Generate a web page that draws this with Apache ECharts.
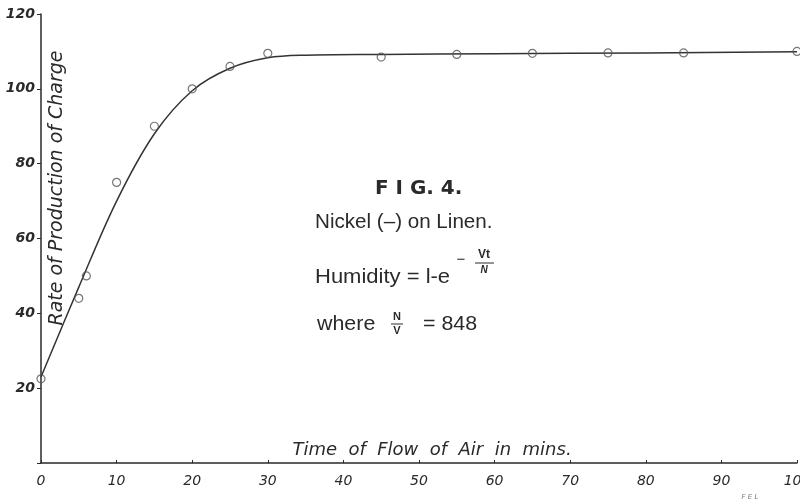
<!DOCTYPE html>
<html>
<head>
<meta charset="utf-8">
<script src="https://cdn.jsdelivr.net/npm/echarts@6/dist/echarts.min.js"></script>
<style>html,body{margin:0;padding:0;background:#fff}#c{width:800px;height:502px}</style>
</head>
<body>
<div id="c"></div>
<script>
// Observed points (time in mins, rate of production of charge)
var obsX = [0, 5, 6, 10, 15, 20, 25, 30, 45, 55, 65, 75, 85, 100];
var obsY = [22.5, 44, 50, 75, 90, 100, 106, 109.5, 108.5, 109.2, 109.5, 109.6, 109.6, 110];
// Fitted curve
var curveX = [0, 5, 10, 15, 20, 25, 30, 35, 45, 60, 80, 100];
var curveY = [23, 47, 70, 88, 99.5, 105.5, 108.3, 109, 109.2, 109.4, 109.6, 109.9];
var xTicks = [0, 10, 20, 30, 40, 50, 60, 70, 80, 90, 100];
var yTicks = [20, 40, 60, 80, 100, 120];

var chart = echarts.init(document.getElementById('c'));
var ink = '#2a2a2a';
var font = 'DejaVu Sans';
chart.setOption({
  animation: false,
  backgroundColor: '#fff',
  grid: {left: 41, right: 3, top: 14, bottom: 39, containLabel: false, outerBoundsMode: 'none'},
  xAxis: {
    type: 'value', min: 0, max: 100, interval: 10,
    axisLine: {show: true, lineStyle: {color: ink, width: 1.5}},
    axisTick: {show: true, inside: true, length: 3, lineStyle: {color: ink}},
    splitLine: {show: false},
    axisLabel: {
      margin: 11, color: ink, fontSize: 14, fontStyle: 'italic', fontFamily: font,
      formatter: function (v) { return xTicks.indexOf(v) >= 0 ? String(v) : ''; }
    }
  },
  yAxis: {
    type: 'value', min: 0, max: 120, interval: 20,
    axisLine: {show: true, lineStyle: {color: ink, width: 1.5}},
    axisTick: {show: true, inside: false, length: 4, lineStyle: {color: ink}},
    splitLine: {show: false},
    axisLabel: {
      margin: 6, color: ink, fontSize: 14, fontStyle: 'italic', fontWeight: 'bold', fontFamily: font,
      formatter: function (v) { return yTicks.indexOf(v) >= 0 ? String(v) : ''; }
    }
  },
  series: [
    {
      type: 'line', smooth: 0.35, showSymbol: false, silent: true,
      lineStyle: {color: '#333', width: 1.5},
      data: curveX.map(function (x, i) { return [x, curveY[i]]; }),
      z: 2
    },
    {
      type: 'scatter', symbol: 'circle', symbolSize: 8,
      itemStyle: {color: 'rgba(255,255,255,0)', borderColor: '#555', borderWidth: 1.2},
      data: obsX.map(function (x, i) { return [x, obsY[i]]; }),
      z: 3
    }
  ],
  graphic: [
    {type: 'text', x: 57, y: 188, rotation: Math.PI / 2, style: {
      text: 'Rate of Production of Charge', fill: ink, font: 'italic 19px "DejaVu Sans"',
      textAlign: 'center', textVerticalAlign: 'middle'}},
    {type: 'text', x: 432, y: 450, style: {
      text: 'Time  of  Flow  of  Air  in  mins.', fill: ink, font: 'italic 18px "DejaVu Sans"',
      textAlign: 'center', textVerticalAlign: 'middle'}},
    {type: 'text', x: 375, y: 189, scaleX: 1.05, style: {
      text: 'F I G. 4.', fill: ink, font: 'bold 19px "DejaVu Sans"',
      textAlign: 'left', textVerticalAlign: 'middle'}},
    {type: 'text', x: 315, y: 222, scaleX: 1.03, style: {
      text: 'Nickel (–) on Linen.', fill: ink, font: '20px "Liberation Sans"',
      textAlign: 'left', textVerticalAlign: 'middle'}},
    {type: 'text', x: 315, y: 277, scaleX: 1.1, style: {
      text: 'Humidity = l-e', fill: ink, font: '20px "Liberation Sans"',
      textAlign: 'left', textVerticalAlign: 'middle'}},
    {type: 'text', x: 461, y: 260, style: {
      text: '−', fill: ink, font: '15px "Liberation Sans"',
      textAlign: 'center', textVerticalAlign: 'middle'}},
    {type: 'text', x: 484, y: 255, style: {
      text: 'Vt', fill: ink, font: 'bold 12px "Liberation Sans"',
      textAlign: 'center', textVerticalAlign: 'middle'}},
    {type: 'line', shape: {x1: 475, y1: 263, x2: 494, y2: 263}, style: {stroke: ink, lineWidth: 1}},
    {type: 'text', x: 484, y: 270, style: {
      text: 'N', fill: ink, font: 'bold italic 10px "Liberation Sans"',
      textAlign: 'center', textVerticalAlign: 'middle'}},
    {type: 'text', x: 317, y: 324, scaleX: 1.07, style: {
      text: 'where', fill: ink, font: '20px "Liberation Sans"',
      textAlign: 'left', textVerticalAlign: 'middle'}},
    {type: 'text', x: 397, y: 317, style: {
      text: 'N', fill: ink, font: 'bold 11px "Liberation Sans"',
      textAlign: 'center', textVerticalAlign: 'middle'}},
    {type: 'line', shape: {x1: 391, y1: 324, x2: 403, y2: 324}, style: {stroke: ink, lineWidth: 1}},
    {type: 'text', x: 397, y: 331, style: {
      text: 'V', fill: ink, font: 'bold 11px "Liberation Sans"',
      textAlign: 'center', textVerticalAlign: 'middle'}},
    {type: 'text', x: 423, y: 324, scaleX: 1.07, style: {
      text: '= 848', fill: ink, font: '20px "Liberation Sans"',
      textAlign: 'left', textVerticalAlign: 'middle'}},
    {type: 'text', x: 750, y: 497, style: {
      text: 'F E L', fill: '#777', font: 'italic 7px "DejaVu Sans"',
      textAlign: 'center', textVerticalAlign: 'middle'}}
  ]
});
</script>
</body>
</html>
